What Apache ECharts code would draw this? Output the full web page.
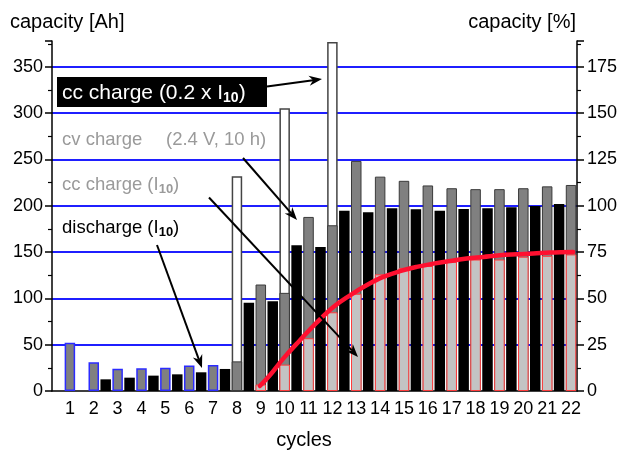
<!DOCTYPE html>
<html>
<head>
<meta charset="utf-8">
<script src="https://cdn.jsdelivr.net/npm/echarts@6/dist/echarts.min.js"></script>
<style>
  html, body { margin: 0; padding: 0; background: #fff; }
  #chart { width: 623px; height: 450px; }
</style>
</head>
<body>
<div id="chart"></div>
<script>
// Cycle numbers (x axis tick labels)
const cycles = [1, 2, 3, 4, 5, 6, 7, 8, 9, 10, 11, 12, 13, 14, 15, 16, 17, 18, 19, 20, 21, 22];

// Charge per cycle split into its phases, in Ah (null = phase not used in that cycle)
const initialCharge = [52, 31, 24, 24.5, 25, 27.5, 28, null, null, null, null, null, null, null, null, null, null, null, null, null, null, null];
const ccChargeI10   = [null, null, null, null, null, null, null, null, 7, 28.5, 57, 85, 105, 126, 133, 135, 139.5, 142, 142, 145, 146, 147.5];
const cvCharge      = [null, null, null, null, null, null, null, 32, 108, 77.5, 131, 94, 143.5, 105.5, 94, 87, 79.5, 76, 76, 74, 75, 75];
const ccCharge02    = [null, null, null, null, null, null, null, 200, null, 199.5, null, 198, null, null, null, null, null, null, null, null, null, null];

// Discharge capacity following each charge, in Ah
const discharge = [null, 12.6, 14.4, 16.6, 18, 20.2, 23.8, 95.4, 96.9, 157.4, 155.6, 194.8, 193, 197.3, 196.3, 194.8, 196.6, 197.3, 198.4, 199.8, 202, null];

// Capacity trend in % (right axis), sampled along the cycle axis
const trendCycle = [8.96, 9.38, 9.94, 10.64, 11.34, 12.04, 12.74, 13.43, 14.13, 14.83, 15.53, 16.23, 16.93, 17.63, 18.33, 19.02, 19.72, 20.42, 21.12, 22.09];
const trendPct   = [2.7, 8.5, 17.5, 27.4, 36.9, 45.4, 51.7, 57.1, 61.6, 64.7, 67.0, 68.8, 70.2, 71.5, 72.4, 73.3, 73.8, 74.2, 74.8, 75.1];

const FONT = "'Liberation Sans', Arial, Helvetica, sans-serif";
const BAR_W = 10.5;

// Phases are piled on one another: each layer is drawn up to the running total,
// the higher layers first so the lower ones are painted over them.
const val = v => (v == null ? 0 : v);
const topCc = ccChargeI10.map(v => v);
const topCv = cvCharge.map((v, i) => (v == null ? null : val(ccChargeI10[i]) + v));
const top02 = ccCharge02.map((v, i) => (v == null ? null : val(ccChargeI10[i]) + val(cvCharge[i]) + v));

// charge bars sit on the cycle number, the discharge bar half a cycle later
const chargePts = arr => cycles.map((c, i) => [c, arr[i] == null ? '-' : arr[i]]);
const dischargePts = discharge.map((v, i) => [cycles[i] + 0.5, v == null ? '-' : v]);
const trendPts = trendCycle.map((c, i) => [c, trendPct[i]]);

function barSeries(name, data, fill, border, borderW) {
  return {
    name, type: 'bar', data,
    barWidth: BAR_W, barGap: '-100%',
    itemStyle: { color: fill, borderColor: border, borderWidth: borderW },
    emphasis: { disabled: true },
    z: 3
  };
}

// arrow annotation: shaft plus notched head
function arrow(x1, y1, x2, y2) {
  const L = 13, W = 5, N = 9;
  const a = Math.atan2(y2 - y1, x2 - x1);
  const ux = Math.cos(a), uy = Math.sin(a), px = -uy, py = ux;
  const bx = x2 - ux * L, by = y2 - uy * L;
  const nx = x2 - ux * N, ny = y2 - uy * N;
  return [
    { type: 'line', z: 100, shape: { x1, y1, x2: nx, y2: ny },
      style: { stroke: '#000', lineWidth: 2 } },
    { type: 'polygon', z: 100,
      shape: { points: [[x2, y2], [bx + px * W, by + py * W], [nx, ny], [bx - px * W, by - py * W]] },
      style: { fill: '#000' } }
  ];
}

function note(x, y, parts, color, size) {
  const sub = Math.round(size * 0.68);
  return {
    type: 'text', z: 101, x, y,
    style: {
      text: parts, align: 'left', verticalAlign: 'middle',
      rich: {
        m: { fontSize: size, fontFamily: FONT, fill: color, lineHeight: size + 4, verticalAlign: 'middle' },
        s: { fontSize: sub, fontWeight: 'bold', fontFamily: FONT, fill: color, lineHeight: size + 4, verticalAlign: 'bottom' }
      }
    }
  };
}

const chart = echarts.init(document.getElementById('chart'), null, { renderer: 'canvas' });

chart.setOption({
  animation: false,
  backgroundColor: '#fff',
  grid: { left: 52, right: 46, top: 41, bottom: 59, containLabel: false, outerBoundsMode: 'none' },
  xAxis: {
    type: 'value', min: 0.25, max: 22.25,
    axisLine: { show: true, lineStyle: { color: '#000', width: 1.5 } },
    axisTick: { show: false },
    splitLine: { show: false },
    axisLabel: {
      customValues: cycles, formatter: v => String(v),
      color: '#000', fontSize: 18, fontFamily: FONT, margin: 9
    }
  },
  yAxis: [
    {
      type: 'value', min: 0, max: 378, interval: 50, position: 'left',
      axisLine: { show: true, lineStyle: { color: '#000', width: 1.5 } },
      axisTick: { show: true, length: 7, lineStyle: { color: '#000', width: 1.5 } },
      minorTick: { show: true, splitNumber: 2, length: 4, lineStyle: { color: '#000', width: 1.2 } },
      splitLine: { show: true, showMinLine: false, showMaxLine: false, lineStyle: { color: '#1f1fff', width: 2 } },
      axisLabel: { color: '#000', fontSize: 18, fontFamily: FONT, margin: 9, showMaxLabel: false }
    },
    {
      type: 'value', min: 0, max: 189, interval: 25, position: 'right',
      axisLine: { show: true, lineStyle: { color: '#000', width: 1.5 } },
      axisTick: { show: true, length: 7, lineStyle: { color: '#000', width: 1.5 } },
      minorTick: { show: true, splitNumber: 2, length: 4, lineStyle: { color: '#000', width: 1.2 } },
      splitLine: { show: false },
      axisLabel: { color: '#000', fontSize: 18, fontFamily: FONT, margin: 10, showMaxLabel: false }
    }
  ],
  series: [
    barSeries('cc charge (0.2 x I10)', chargePts(top02), '#ffffff', '#444444', 1.5),
    barSeries('cv charge (2.4 V, 10 h)', chargePts(topCv), '#808080', '#3a3a3a', 1),
    barSeries('cc charge (I10)', chargePts(topCc), '#c3c3c3', '#ff3c3c', 1),
    barSeries('charge', chargePts(initialCharge), '#808080', '#2b2bff', 1.5),
    barSeries('discharge (I10)', dischargePts, '#000000', '#000000', 0),
    {
      name: 'capacity', type: 'line', yAxisIndex: 1, data: trendPts,
      smooth: 0.4, showSymbol: false, symbol: 'none', z: 5,
      lineStyle: { color: '#ff1030', width: 4.5, cap: 'round' },
      emphasis: { disabled: true }
    }
  ],
  graphic: [
    { type: 'text', z: 101, x: 10, y: 22,
      style: { text: 'capacity [Ah]', fontSize: 20, fontFamily: FONT, fill: '#000', align: 'left', verticalAlign: 'middle' } },
    { type: 'text', z: 101, x: 576, y: 22,
      style: { text: 'capacity [%]', fontSize: 20, fontFamily: FONT, fill: '#000', align: 'right', verticalAlign: 'middle' } },
    { type: 'text', z: 101, x: 304, y: 440,
      style: { text: 'cycles', fontSize: 20, fontFamily: FONT, fill: '#000', align: 'center', verticalAlign: 'middle' } },
    { type: 'rect', z: 100, shape: { x: 57, y: 77, width: 210, height: 30 }, style: { fill: '#000' } },
    note(62, 93, '{m|cc charge (0.2 x I}{s|10}{m|)}', '#ffffff', 21),
    note(62, 140, '{m|cv charge}', '#9a9a9a', 18.5),
    note(166, 140, '{m|(2.4 V, 10 h)}', '#9a9a9a', 18.5),
    note(62, 185, '{m|cc charge (I}{s|10}{m|)}', '#9a9a9a', 18.5),
    note(62, 228, '{m|discharge (I}{s|10}{m|)}', '#000000', 18.5),
    ...arrow(267, 86.5, 322, 79),
    ...arrow(243, 158, 297, 220),
    ...arrow(209, 197.5, 358, 357),
    ...arrow(157, 245, 202, 368)
  ]
});
</script>
</body>
</html>
